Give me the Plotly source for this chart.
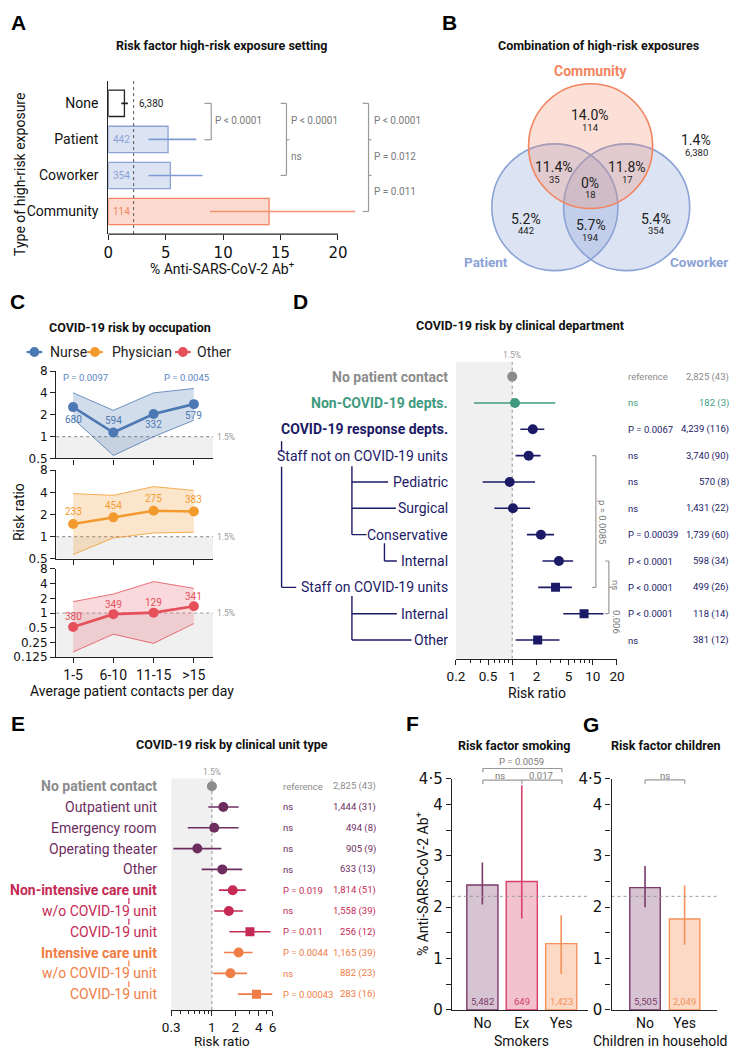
import math
import plotly.graph_objects as go

W, H = 739, 1055
FONT = "Roboto"
WIDE = "DejaVu Sans"

# ---------------- DATA ----------------
# Panel A
a_categories = ["None", "Patient", "Coworker", "Community"]
a_values = [1.4, 5.2, 5.4, 14.0]
a_ci_low = [1.13, 3.5, 3.5, 8.85]
a_ci_high = [1.7, 7.66, 8.2, 21.5]
a_counts = ["6,380", "442", "354", "114"]
overall_pct = 2.2

# Panel B (Venn)
venn_pct = ["14.0%", "11.4%", "11.8%", "0%", "5.2%", "5.7%", "5.4%", "1.4%"]
venn_n = ["114", "35", "17", "18", "442", "194", "354", "6,380"]
venn_sets = ["Community", "Patient", "Coworker"]

# Panel C
c_contacts = ["1-5", "6-10", "11-15", ">15"]
nurse_rr = [2.55, 1.14, 2.05, 2.8]
nurse_lo = [1.77, 0.55, 1.0, 1.68]
nurse_hi = [4.0, 2.3, 4.0, 4.6]
nurse_n = ["680", "594", "332", "579"]
phys_rr = [1.49, 1.83, 2.25, 2.2]
phys_lo = [0.57, 0.96, 1.12, 1.15]
phys_hi = [3.85, 3.65, 4.8, 4.25]
phys_n = ["233", "454", "275", "383"]
other_rr = [0.52, 0.95, 1.02, 1.38]
other_lo = [0.16, 0.37, 0.24, 0.61]
other_hi = [1.71, 2.45, 4.4, 3.2]
other_n = ["380", "349", "129", "341"]
nurse_p = ["P = 0.0097", "P = 0.0045"]

# Panel D
d_labels = ["No patient contact", "Non-COVID-19 depts.", "COVID-19 response depts.",
            "Staff not on COVID-19 units", "Pediatric", "Surgical", "Conservative",
            "Internal", "Staff on COVID-19 units", "Internal", "Other"]
d_rr = [1.0, 1.08, 1.8, 1.6, 0.93, 1.02, 2.27, 3.8, 3.45, 7.8, 2.07]
d_lo = [None, 0.336, 1.26, 1.1, 0.43, 0.6, 1.52, 2.38, 2.1, 4.3, 1.1]
d_hi = [None, 3.42, 2.5, 2.25, 1.92, 1.67, 3.3, 5.7, 5.5, 13.6, 3.86]
d_p = ["reference", "ns", "P = 0.0067", "ns", "ns", "ns", "P = 0.00039",
       "P &lt; 0.0001", "P &lt; 0.0001", "P &lt; 0.0001", "ns"]
d_n = ["2,825 (43)", "182 (3)", "4,239 (116)", "3,740 (90)", "570 (8)", "1,431 (22)",
       "1,739 (60)", "598 (34)", "499 (26)", "118 (14)", "381 (12)"]

# Panel E
e_labels = ["No patient contact", "Outpatient unit", "Emergency room", "Operating theater",
            "Other", "Non-intensive care unit", "w/o COVID-19 unit", "COVID-19 unit",
            "Intensive care unit", "w/o COVID-19 unit", "COVID-19 unit"]
e_rr = [1.0, 1.4, 1.07, 0.65, 1.36, 1.85, 1.65, 3.08, 2.2, 1.73, 3.74]
e_lo = [None, 0.9, 0.49, 0.32, 0.74, 1.23, 1.07, 1.68, 1.43, 1.04, 2.16]
e_hi = [None, 2.2, 2.2, 1.32, 2.45, 2.72, 2.5, 5.65, 3.33, 2.83, 6.0]
e_p = ["reference", "ns", "ns", "ns", "ns", "P = 0.019", "ns", "P = 0.011",
       "P = 0.0044", "ns", "P = 0.00043"]
e_n = ["2,825 (43)", "1,444 (31)", "494 (8)", "905 (9)", "633 (13)", "1,814 (51)",
       "1,558 (39)", "256 (12)", "1,165 (39)", "882 (23)", "283 (16)"]

# Panel F
f_groups = ["No", "Ex", "Yes"]
f_values = [2.43, 2.5, 1.29]
f_lo = [2.05, 1.78, 0.7]
f_hi = [2.87, 4.37, 1.84]
f_n = ["5,482", "649", "1,423"]
f_p = ["P = 0.0059", "ns", "0.017"]

# Panel G
g_groups = ["No", "Yes"]
g_values = [2.38, 1.77]
g_lo = [2.0, 1.27]
g_hi = [2.8, 2.42]
g_n = ["5,505", "2,049"]
g_p = ["ns"]
overall_pct_fg = 2.21

# ---------------- helpers ----------------
def X(p):
    return p / W

def Y(p):
    return 1 - p / H

def dxr(a, b):
    return [a / W, b / W]

def dyr(top, bottom):
    return [1 - bottom / H, 1 - top / H]

annotations = []
shapes = []

def T(text, x, y, size=10, color="#222", anchor="center", bold=False, angle=0,
      family=FONT, xref=None, yref=None, yshift=0):
    annotations.append(dict(
        text=f"<b>{text}</b>" if bold else text,
        x=X(x) if xref is None else x, y=Y(y) if yref is None else y,
        xref=xref or "paper", yref=yref or "paper",
        xanchor=anchor, yanchor="middle", showarrow=False, textangle=angle,
        yshift=yshift, font=dict(size=size, color=color, family=family)))

def L(x0, y0, x1, y1, color="#999", w=1.2, dash=None, yref=None):
    shapes.append(dict(type="line", xref="paper", yref=yref or "paper",
                       x0=X(x0), x1=X(x1),
                       y0=Y(y0) if yref is None else y0,
                       y1=Y(y1) if yref is None else y1,
                       line=dict(color=color, width=w, dash=dash)))

def C(cx, cy, r, fill, line):
    shapes.append(dict(type="circle", xref="paper", yref="paper",
                       x0=X(cx - r), x1=X(cx + r), y0=Y(cy + r), y1=Y(cy - r),
                       fillcolor=fill, line=dict(color=line, width=1.6)))

fig = go.Figure()
AX = "#222"
GRAYTXT = "#7a7a7a"
BR = "#9a9a9a"

# ---------------- Panel A ----------------
T("A", 10, 14, 21, "#000", bold=True, family="Liberation Sans")
T("Risk factor high-risk exposure setting", 218, 37, 12.5, "#111", bold=True)
a_edge = ["#222", "#8CA3D6", "#8CA3D6", "#F4845F"]
a_fill = ["#FFFFFF", "rgba(140,163,214,0.3)", "rgba(140,163,214,0.3)", "rgba(244,132,95,0.3)"]
a_err = ["#222", "#7F9BD6", "#7F9BD6", "#F79270"]
for i in range(4):
    fig.add_trace(go.Bar(
        x=[a_values[i]], y=[i], orientation="h", width=0.73,
        marker=dict(color=a_fill[i], line=dict(color=a_edge[i], width=1.3)),
        error_x=dict(type="data", symmetric=False, array=[a_ci_high[i] - a_values[i]],
                     arrayminus=[a_values[i] - a_ci_low[i]], color=a_err[i],
                     thickness=1.6, width=0),
        xaxis="x", yaxis="y", showlegend=False, hoverinfo="skip"))
shapes.append(dict(type="line", xref="x", yref="y domain", x0=overall_pct, x1=overall_pct,
                   y0=0, y1=1, line=dict(color="#555", width=1, dash="dot")))
L(101.7, 229, 336.7, 229, AX, 1.3)
T(a_counts[0], 131, 96, 10, "#222", anchor="left")
for i in range(1, 4):
    T(a_counts[i], 104, 96 + 36.67 * i, 10, a_edge[i], anchor="left")
# brackets
L(207, 96, 207, 133, BR); L(200, 96, 207, 96, BR); L(200, 133, 207, 133, BR)
T("P &lt; 0.0001", 209, 113, 10, GRAYTXT, anchor="left")
L(284, 96, 284, 169.3, BR); L(278, 96, 284, 96, BR); L(278, 169.3, 284, 169.3, BR); L(284, 133, 287, 133, BR)
T("P &lt; 0.0001", 287, 113, 10, GRAYTXT, anchor="left")
T("ns", 287, 150, 10, GRAYTXT, anchor="left")
L(368, 96, 368, 206, BR); L(362, 96, 368, 96, BR); L(362, 206, 368, 206, BR)
L(368, 133, 371, 133, BR); L(368, 169.3, 371, 169.3, BR)
T("P &lt; 0.0001", 372, 113, 10, GRAYTXT, anchor="left")
T("P = 0.012", 372, 150, 10, GRAYTXT, anchor="left")
T("P = 0.011", 372, 186, 10, GRAYTXT, anchor="left")
T("% Anti-SARS-CoV-2 Ab<sup>+</sup>", 219, 263, 14, "#111")
T("Type of high-risk exposure", 11, 168, 14, "#111", angle=-90)

# ---------------- Panel B ----------------
T("B", 451, 14, 21, "#000", bold=True, family="Liberation Sans")
T("Combination of high-risk exposures", 603, 37, 12.5, "#111", bold=True)
BLUE_V = "#8CA3D6"
C(558.7, 201.7, 64.5, "rgba(140,163,214,0.3)", BLUE_V)
C(632.2, 201.7, 64.5, "rgba(140,163,214,0.3)", BLUE_V)
C(595.3, 139.5, 63.5, "rgba(244,132,95,0.25)", "#F4845F")
T(venn_sets[0], 595, 62.7, 14, "#F4845F", bold=True)
T(venn_sets[1], 488, 257, 13.5, BLUE_V, bold=True)
T(venn_sets[2], 706, 257, 13.5, BLUE_V, bold=True)
venn_pos = [(595, 108.3), (558.3, 161), (632.7, 161), (595, 176.7),
            (529.3, 213.3), (595.3, 220), (662.7, 213.3), (703.3, 133.3)]
for (vx, vy), pct, n in zip(venn_pos, venn_pct, venn_n):
    T(pct, vx, vy, 14, "#222")
    T(n, vx, vy + 12.5, 9.5, "#222")

# ---------------- Panel C ----------------
T("C", 9, 298, 21, "#000", bold=True, family="Liberation Sans")
T("COVID-19 risk by occupation", 124, 324, 12.5, "#111", bold=True)
NURSE, PHYS, OTHER = "#4C79B3", "#F39A2E", "#E5505A"
for mx, tx, col, name in [(26, 40, NURSE, "Nurse"), (88, 103, PHYS, "Physician"), (178, 190, OTHER, "Other")]:
    L(mx - 8, 349, mx + 8, 349, col, 2.2)
    C(mx, 349, 4.2, col, col)
    T(name, tx, 349, 14, "#222", anchor="left")

c_series = [
    (nurse_rr, nurse_lo, nurse_hi, nurse_n, NURSE, "rgba(76,121,179,0.25)", [-12, 12, -11, -11], 0.5),
    (phys_rr, phys_lo, phys_hi, phys_n, PHYS, "rgba(243,154,46,0.25)", [12, 12, 12, 12], 0.5),
    (other_rr, other_lo, other_hi, other_n, OTHER, "rgba(229,80,90,0.22)", [10, 10, 10, 10], 0.125),
]
c_dom = [(368.3, 457.3), (469.3, 559.3), (569.6, 659.5)]
xs = [0, 1, 2, 3]
XR = [-0.42, 3.48]
for k, (rr, lo, hi, ns, col, fill, shifts, ymin) in enumerate(c_series):
    xa, ya = f"x{k + 2}", f"y{k + 2}"
    fig.add_trace(go.Scatter(x=[XR[0], XR[1], XR[1], XR[0]], y=[ymin, ymin, 1, 1], fill="toself",
                             fillcolor="#F0F0F0", line=dict(width=0), mode="lines",
                             xaxis=xa, yaxis=ya, hoverinfo="skip", showlegend=False))
    fig.add_trace(go.Scatter(x=XR, y=[1, 1], mode="lines", line=dict(color="#9a9a9a", width=1.1, dash="dot"),
                             xaxis=xa, yaxis=ya, hoverinfo="skip", showlegend=False))
    fig.add_trace(go.Scatter(x=xs + xs[::-1], y=hi + lo[::-1], fill="toself", fillcolor=fill,
                             line=dict(width=0), mode="lines", xaxis=xa, yaxis=ya,
                             hoverinfo="skip", showlegend=False))
    for edge in (hi, lo):
        fig.add_trace(go.Scatter(x=xs, y=edge, mode="lines", line=dict(color=col, width=0.8),
                                 xaxis=xa, yaxis=ya, hoverinfo="skip", showlegend=False))
    fig.add_trace(go.Scatter(x=xs, y=rr, mode="lines+markers", line=dict(color=col, width=2.6),
                             marker=dict(size=10, color=col), xaxis=xa, yaxis=ya,
                             hoverinfo="skip", showlegend=False))
    for i in range(4):
        T(ns[i], i, math.log10(rr[i]), 10, col, xref=xa, yref=ya, yshift=shifts[i])
    T("1.5%", 211, 0, 8.5, "#9a9a9a", anchor="left", yref=ya)
T(nurse_p[0], 78, 375, 9.5, "#5B86C0")
T(nurse_p[1], 182, 375, 9.5, "#5B86C0")
T("Risk ratio", 10, 512, 14, "#111", angle=-90)
T("Average patient contacts per day", 126, 694, 14, "#111")

# ---------------- Panel D ----------------
T("D", 298, 298, 21, "#000", bold=True, family="Liberation Sans")
T("COVID-19 risk by clinical department", 523, 322, 12.5, "#111", bold=True)
NAVY, GREEN, GRAYP = "#1C1A66", "#3F9A80", "#8C8C8C"
d_col = [GRAYP, GREEN] + [NAVY] * 9
d_bold = [True, True, True] + [False] * 8
d_sym = ["circle"] * 8 + ["square"] * 3
DY = [10.71, -0.56]
fig.add_trace(go.Scatter(x=[0.2, 1, 1, 0.2], y=[DY[1], DY[1], DY[0], DY[0]], fill="toself",
                         fillcolor="#F0F0F0", line=dict(width=0), mode="lines",
                         xaxis="x5", yaxis="y5", hoverinfo="skip", showlegend=False))
fig.add_trace(go.Scatter(x=[1, 1], y=DY, mode="lines", line=dict(color="#9a9a9a", width=1.1, dash="dot"),
                         xaxis="x5", yaxis="y5", hoverinfo="skip", showlegend=False))
for i in range(len(d_labels)):
    err = None
    if d_lo[i] is not None:
        err = dict(type="data", symmetric=False, array=[d_hi[i] - d_rr[i]],
                   arrayminus=[d_rr[i] - d_lo[i]], color=d_col[i], thickness=1.6, width=0)
    fig.add_trace(go.Scatter(x=[d_rr[i]], y=[i], mode="markers", error_x=err,
                             marker=dict(size=10 if d_sym[i] == "circle" else 9, color=d_col[i], symbol=d_sym[i]),
                             xaxis="x5", yaxis="y5", hoverinfo="skip", showlegend=False))
    T(d_labels[i], 451, i, 14, d_col[i], anchor="right", bold=d_bold[i], yref="y5")
    T(d_p[i], 632, i, 9.5, d_col[i], anchor="left", yref="y5")
    T(d_n[i], 739, i, 9.5, d_col[i], anchor="right", yref="y5")
T("1.5%", 515, 352.5, 8.5, "#9a9a9a")
T("Risk ratio", 540, 695.5, 14, "#111")
# tree
L(279, 2.45, 279, 2.85, NAVY, 1.4, yref="y5")
L(279, 3.42, 279, 8, NAVY, 1.4, yref="y5")
L(279, 8, 294, 8, NAVY, 1.4, yref="y5")
L(351, 3.4, 351, 6, NAVY, 1.4, yref="y5")
L(351, 4, 388, 4, NAVY, 1.4, yref="y5")
L(351, 5, 396, 5, NAVY, 1.4, yref="y5")
L(351, 6, 366, 6, NAVY, 1.4, yref="y5")
L(384.3, 6.33, 384.3, 7, NAVY, 1.4, yref="y5")
L(384.3, 7, 397, 7, NAVY, 1.4, yref="y5")
L(351, 8.33, 351, 10, NAVY, 1.4, yref="y5")
L(351, 9, 397, 9, NAVY, 1.4, yref="y5")
L(351, 10, 412, 10, NAVY, 1.4, yref="y5")
# brackets D
L(600.7, 3, 600.7, 8, BR, yref="y5"); L(597, 3, 600.7, 3, BR, yref="y5"); L(597, 8, 600.7, 8, BR, yref="y5")
T("p = 0.0085", 607.5, 5.5, 9.5, GRAYTXT, angle=90, yref="y5")
L(614, 7, 614, 9, BR, yref="y5"); L(610, 7, 614, 7, BR, yref="y5"); L(610, 9, 614, 9, BR, yref="y5")
L(614, 8, 617, 8, BR, yref="y5")
T("ns", 621, 7.9, 9.5, GRAYTXT, angle=90, yref="y5")
T("0.006", 622, 9.3, 9.5, GRAYTXT, angle=90, yref="y5")

# ---------------- Panel E ----------------
T("E", 9, 727, 21, "#000", bold=True, family="Liberation Sans")
T("COVID-19 risk by clinical unit type", 228, 748, 12.5, "#111", bold=True)
PLUM, CRIM, ORNG = "#6D2E5F", "#C52A55", "#EF7D45"
e_col = [GRAYP, PLUM, PLUM, PLUM, PLUM, CRIM, CRIM, CRIM, ORNG, ORNG, ORNG]
e_bold = [True, False, False, False, False, True, False, False, True, False, False]
e_sym = ["circle"] * 7 + ["square"] + ["circle"] * 2 + ["square"]
EY = [10.76, -0.378]
fig.add_trace(go.Scatter(x=[0.3, 1, 1, 0.3], y=[EY[1], EY[1], EY[0], EY[0]], fill="toself",
                         fillcolor="#F0F0F0", line=dict(width=0), mode="lines",
                         xaxis="x6", yaxis="y6", hoverinfo="skip", showlegend=False))
fig.add_trace(go.Scatter(x=[1, 1], y=EY, mode="lines", line=dict(color="#9a9a9a", width=1.1, dash="dot"),
                         xaxis="x6", yaxis="y6", hoverinfo="skip", showlegend=False))
for i in range(len(e_labels)):
    err = None
    if e_lo[i] is not None:
        err = dict(type="data", symmetric=False, array=[e_hi[i] - e_rr[i]],
                   arrayminus=[e_rr[i] - e_lo[i]], color=e_col[i], thickness=1.6, width=0)
    fig.add_trace(go.Scatter(x=[e_rr[i]], y=[i], mode="markers", error_x=err,
                             marker=dict(size=10 if e_sym[i] == "circle" else 9, color=e_col[i], symbol=e_sym[i]),
                             xaxis="x6", yaxis="y6", hoverinfo="skip", showlegend=False))
    T(e_labels[i], 154, i, 14, e_col[i], anchor="right", bold=e_bold[i], yref="y6")
    T(e_p[i], 278, i, 9.5, e_col[i], anchor="left", yref="y6")
    T(e_n[i], 378, i, 9.5, e_col[i], anchor="right", yref="y6")
for r, col in [(5, CRIM), (6, CRIM), (8, ORNG), (9, ORNG)]:
    L(122.7, r + 0.38, 122.7, r + 0.66, col, 1.2, yref="y6")
T("1.5%", 207.7, 776.5, 8.5, "#9a9a9a")
T("Risk ratio", 218, 1050, 13.5, "#111")

# ---------------- Panel F ----------------
T("F", 413, 727, 21, "#000", bold=True, family="Liberation Sans")
T("Risk factor smoking", 517, 749.3, 12.5, "#111", bold=True)
f_edge = ["#7A3A6A", "#D6406A", "#F4925A"]
f_fill = ["rgba(122,58,106,0.3)", "rgba(214,64,106,0.32)", "rgba(244,146,90,0.35)"]
for i in range(3):
    fig.add_trace(go.Bar(x=[i], y=[f_values[i]], width=0.79,
                         marker=dict(color=f_fill[i], line=dict(color=f_edge[i], width=1.4)),
                         error_y=dict(type="data", symmetric=False, array=[f_hi[i] - f_values[i]],
                                      arrayminus=[f_values[i] - f_lo[i]], color=f_edge[i],
                                      thickness=1.6, width=0),
                         xaxis="x7", yaxis="y7", showlegend=False, hoverinfo="skip"))
    T(f_n[i], i, 1010, 9.5, f_edge[i], xref="x7")
FXR = [-0.774, 2.69]
fig.add_trace(go.Scatter(x=FXR, y=[overall_pct_fg] * 2, mode="lines",
                         line=dict(color="#999", width=1, dash="dot"),
                         xaxis="x7", yaxis="y7", hoverinfo="skip", showlegend=False))
T(f_p[0], 525, 766, 9.5, GRAYTXT)
L(485, 772.7, 566, 772.7, BR); L(485, 772.7, 485, 776.5, BR); L(566, 772.7, 566, 776.5, BR)
T(f_p[1], 503, 779.3, 9.5, GRAYTXT)
T(f_p[2], 545, 779.3, 9.5, GRAYTXT)
L(485, 784.5, 566, 784.5, BR)
for bx in (485, 525, 566):
    L(bx, 784.5, bx, 788.5, BR)
T("% Anti-SARS-CoV-2 Ab<sup>+</sup>", 423, 890, 14, "#111", angle=-90)
T("Smokers", 525, 1050, 14, "#111")

# ---------------- Panel G ----------------
T("G", 596, 728, 21, "#000", bold=True, family="Liberation Sans")
T("Risk factor children", 671.7, 749.3, 12.5, "#111", bold=True)
g_edge = ["#7A3A6A", "#F4925A"]
g_fill = ["rgba(122,58,106,0.3)", "rgba(244,146,90,0.35)"]
for i in range(2):
    fig.add_trace(go.Bar(x=[i], y=[g_values[i]], width=0.77,
                         marker=dict(color=g_fill[i], line=dict(color=g_edge[i], width=1.4)),
                         error_y=dict(type="data", symmetric=False, array=[g_hi[i] - g_values[i]],
                                      arrayminus=[g_values[i] - g_lo[i]], color=g_edge[i],
                                      thickness=1.6, width=0),
                         xaxis="x8", yaxis="y8", showlegend=False, hoverinfo="skip"))
    T(g_n[i], i, 1010, 9.5, g_edge[i], xref="x8")
GXR = [-0.847, 1.827]
fig.add_trace(go.Scatter(x=GXR, y=[overall_pct_fg] * 2, mode="lines",
                         line=dict(color="#999", width=1, dash="dot"),
                         xaxis="x8", yaxis="y8", hoverinfo="skip", showlegend=False))
T(g_p[0], 671.3, 779.3, 9.5, GRAYTXT)
L(651, 784.3, 691.7, 784.3, BR); L(651, 784.3, 651, 788.3, BR); L(691.7, 784.3, 691.7, 788.3, BR)
T("Children in household", 666, 1050, 14, "#111")

# ---------------- axes ----------------
base = dict(showgrid=False, zeroline=False, linecolor=AX, linewidth=1.3, tickcolor=AX,
            tickwidth=1.2, ticks="outside", ticklen=5)
lay = {}
lay["xaxis"] = dict(base, domain=dxr(101.7, 360.2), range=[0, 22], tickvals=[0, 5, 10, 15, 20],
                    showline=False, anchor="y", tickfont=dict(family=WIDE, size=15, color="#111"))
lay["yaxis"] = dict(base, domain=dyr(73, 229), range=[3.627, -0.627], tickvals=[0, 1, 2, 3],
                    ticktext=a_categories, ticks="", showline=True, anchor="x",
                    ticklabelstandoff=6, tickfont=dict(family=FONT, size=14, color="#111"))
c_ranges = [(0.5, [0.5, 1, 2, 4, 8]), (0.5, [0.5, 1, 2, 4, 8]),
            (0.125, [0.125, 0.25, 0.5, 1, 2, 4, 8])]
for k in range(3):
    n = k + 2
    lay[f"xaxis{n}"] = dict(base, domain=dxr(48.3, 209), range=XR, tickvals=[0, 1, 2, 3],
                            ticktext=c_contacts, showticklabels=(k == 2), showline=True,
                            anchor=f"y{n}", tickfont=dict(family=FONT, size=14, color="#111"))
    lo_, tv = c_ranges[k]
    lay[f"yaxis{n}"] = dict(base, type="log", domain=dyr(*c_dom[k]),
                            range=[math.log10(lo_), math.log10(8)], tickvals=tv,
                            ticktext=[("%g" % v) for v in tv], showline=True, anchor=f"x{n}",
                            tickfont=dict(family=WIDE, size=12, color="#111"))
lay["xaxis5"] = dict(base, type="log", domain=dxr(457.5, 622.3),
                     range=[math.log10(0.2), math.log10(20)],
                     tickvals=[0.2, 0.5, 1, 2, 5, 10, 20], ticktext=["0.2", "0.5", "1", "2", "5", "10", "20"],
                     ticklen=5, showline=True, anchor="y5",
                     minor=dict(tickvals=[0.3, 0.4, 0.6, 0.7, 0.8, 0.9, 3, 4, 6, 7, 8, 9],
                                ticks="outside", ticklen=3, tickcolor=AX),
                     tickfont=dict(family=FONT, size=13.5, color="#111"))
lay["yaxis5"] = dict(domain=dyr(359, 661), range=DY, visible=False, anchor="x5")
lay["xaxis6"] = dict(base, type="log", domain=dxr(166, 269.7),
                     range=[math.log10(0.3), math.log10(6)],
                     tickvals=[0.3, 1, 2, 4, 6], ticktext=["0.3", "1", "2", "4", "6"],
                     ticklen=5, showline=True, anchor="y6",
                     minor=dict(tickvals=[0.4, 0.5, 0.6, 0.7, 0.8, 0.9, 3, 5],
                                ticks="outside", ticklen=3, tickcolor=AX),
                     tickfont=dict(family=FONT, size=13.5, color="#111"))
lay["yaxis6"] = dict(domain=dyr(782.7, 1018.3), range=EY, visible=False, anchor="x6")
for n, dom, rng, cats in [(7, (453.3, 593), FXR, f_groups), (8, (616.7, 725), GXR, g_groups)]:
    lay[f"xaxis{n}"] = dict(base, domain=dxr(*dom), range=rng, tickvals=list(range(len(cats))),
                            ticktext=cats, ticks="", showline=True, anchor=f"y{n}",
                            tickfont=dict(family=FONT, size=14, color="#111"))
    lay[f"yaxis{n}"] = dict(base, domain=dyr(783, 1018.3), range=[0, 4.5],
                            tickvals=[0, 1, 2, 3, 4, 4.5], ticktext=["0", "1", "2", "3", "4", "4·5"],
                            minor=dict(tickvals=[0.5, 1.5, 2.5, 3.5], ticks="outside", ticklen=5, tickcolor=AX),
                            showline=True, anchor=f"x{n}",
                            tickfont=dict(family=WIDE, size=15, color="#111"))

fig.update_layout(width=W, height=H, margin=dict(l=0, r=0, t=0, b=0),
                  paper_bgcolor="white", plot_bgcolor="white", barmode="overlay",
                  showlegend=False, font=dict(family=FONT, color="#111"),
                  annotations=annotations, shapes=shapes, **lay)
fig.write_html("out.html", config={"displayModeBar": False},
               post_script="document.body.style.margin='0px';")
